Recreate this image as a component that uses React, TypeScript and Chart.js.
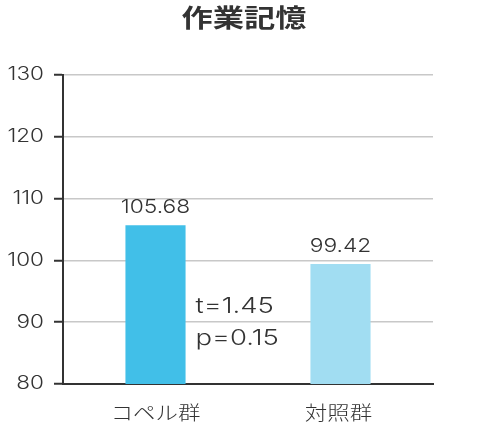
import React, { useRef, useEffect } from "react";
import { Chart, registerables, Plugin } from "chart.js";

Chart.register(...registerables);

const categories = ["コペル群", "対照群"];
const scores = [105.68, 99.42];
const barColors = ["#41bfe8", "#a1ddf2"];
const yTicks = [80, 90, 100, 110, 120, 130];
const statLines = ["t=1.45", "p=0.15"];
const statValues = [92.5, 87.3];
const title = "作業記憶";

const JP = "'Noto Sans CJK JP', sans-serif";
const NUM = "Inter, 'Noto Sans', sans-serif";

// text in the reference is a little wider than tall, so stretch it horizontally
const drawText = (
  ctx: CanvasRenderingContext2D,
  text: string,
  x: number,
  y: number,
  font: string,
  align: CanvasTextAlign,
  sx: number
) => {
  ctx.save();
  ctx.translate(x, y);
  ctx.scale(sx, 1);
  ctx.font = font;
  ctx.textAlign = align;
  ctx.textBaseline = "middle";
  ctx.fillStyle = "#333";
  ctx.fillText(text, 0, 0);
  ctx.restore();
};

const labelPlugin: Plugin<"bar"> = {
  id: "labels",
  afterDatasetsDraw(chart) {
    const ctx = chart.ctx;
    const meta = chart.getDatasetMeta(0);
    const y = chart.scales.y;
    const x = chart.scales.x;

    drawText(ctx, title, 244, 17, `bold 25px ${JP}`, "center", 1.25);

    meta.data.forEach((bar: any, i) => {
      drawText(ctx, scores[i].toFixed(2), bar.x, bar.y - 18, `300 19px ${NUM}`, "center", 1.2);
    });

    yTicks.forEach((v) => {
      drawText(ctx, String(v), 44, y.getPixelForValue(v), `300 18px ${NUM}`, "right", 1.25);
    });

    categories.forEach((c, i) => {
      drawText(ctx, c, x.getPixelForValue(i) - 2 * i, 413, `300 19px ${JP}`, "center", 1.18);
    });

    const first: any = meta.data[0];
    statLines.forEach((s, i) => {
      drawText(ctx, s, first.x + first.width / 2 + 10, y.getPixelForValue(statValues[i]), `300 22px ${NUM}`, "left", 1.25);
    });
  },
};

const App: React.FC = () => {
  const canvasRef = useRef<HTMLCanvasElement | null>(null);

  useEffect(() => {
    document.body.style.margin = "0";
    if (!canvasRef.current) return;
    const chart = new Chart(canvasRef.current, {
      type: "bar",
      data: {
        labels: categories,
        datasets: [
          {
            data: scores,
            backgroundColor: barColors,
            barPercentage: 0.65,
            categoryPercentage: 0.5,
          },
        ],
      },
      options: {
        animation: false,
        responsive: false,
        layout: { padding: { left: 0, right: 57, top: 75, bottom: 0 } },
        plugins: {
          legend: { display: false },
          tooltip: { enabled: false },
        },
        scales: {
          x: {
            grid: { display: false },
            border: { display: true, color: "#333", width: 2 },
            ticks: { display: false },
            afterFit: (s: any) => {
              s.height = 46;
            },
          },
          y: {
            min: 80,
            max: 130,
            ticks: { stepSize: 10, display: false },
            grid: { color: "#c8c8c8", lineWidth: 1.5, tickLength: 9, tickColor: "#333", tickWidth: 2 },
            border: { display: true, color: "#333", width: 2 },
            afterFit: (s: any) => {
              s.width = 63;
            },
          },
        },
      },
      plugins: [labelPlugin],
    });
    return () => chart.destroy();
  }, []);

  return <canvas ref={canvasRef} width={490} height={430} />;
};

export default App;
